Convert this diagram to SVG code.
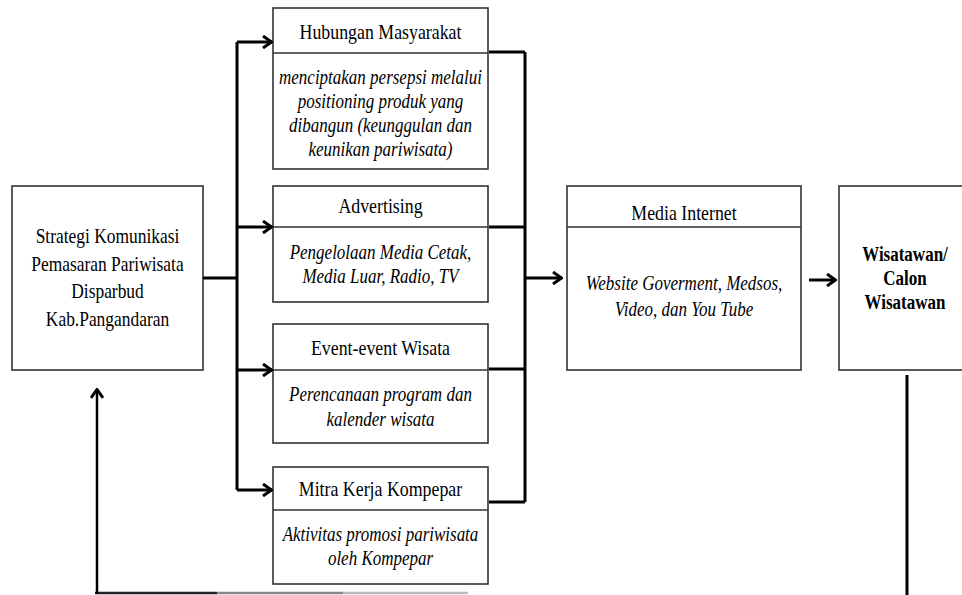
<svg xmlns="http://www.w3.org/2000/svg" width="962" height="595" viewBox="0 0 962 595">
<defs>
<style>
.box{fill:#fff;stroke:#333;stroke-width:1.6}
.div{stroke:#333;stroke-width:1.6;fill:none}
.con{stroke:#000;stroke-width:3;fill:none}
.t{font-family:"Liberation Serif","Times New Roman",serif;font-size:21px;fill:#000;text-anchor:middle}
.i{font-family:"Liberation Serif","Times New Roman",serif;font-size:20px;font-style:italic;fill:#000;text-anchor:middle}
.b{font-family:"Liberation Serif","Times New Roman",serif;font-size:20px;font-weight:bold;fill:#000;text-anchor:middle}
</style>
<marker id="ah" viewBox="0 0 12 14" refX="11" refY="7" markerWidth="12" markerHeight="14" markerUnits="userSpaceOnUse" orient="auto">
<polyline points="2,1 10.5,7 2,13" fill="none" stroke="#000" stroke-width="3"/>
</marker>
</defs>

<g id="node-strategi">
<rect class="box" x="12" y="186" width="191" height="184"/>
<g transform="translate(107.5 0) scale(0.83 1)">
<text class="t" x="0" y="243">Strategi Komunikasi</text>
<text class="t" x="0" y="271">Pemasaran Pariwisata</text>
<text class="t" x="0" y="298">Disparbud</text>
<text class="t" x="0" y="326">Kab.Pangandaran</text>
</g>
</g>

<g id="node-humas">
<rect class="box" x="273" y="8" width="215" height="161"/>
<line class="div" x1="273" y1="53" x2="488" y2="53"/>
<g transform="translate(380.5 0) scale(0.85 1)">
<text class="t" x="0" y="39">Hubungan Masyarakat</text>
<text class="i" x="0" y="84">menciptakan persepsi melalui</text>
<text class="i" x="0" y="108">positioning produk yang</text>
<text class="i" x="0" y="132">dibangun (keunggulan dan</text>
<text class="i" x="0" y="156">keunikan pariwisata)</text>
</g>
</g>

<g id="node-advertising">
<rect class="box" x="273" y="186" width="215" height="116"/>
<line class="div" x1="273" y1="227" x2="488" y2="227"/>
<g transform="translate(380.5 0) scale(0.85 1)">
<text class="t" x="0" y="213">Advertising</text>
<text class="i" x="0" y="259">Pengelolaan Media Cetak,</text>
<text class="i" x="0" y="283">Media Luar, Radio, TV</text>
</g>
</g>

<g id="node-event">
<rect class="box" x="273" y="324" width="215" height="119"/>
<line class="div" x1="273" y1="370" x2="488" y2="370"/>
<g transform="translate(380.5 0) scale(0.85 1)">
<text class="t" x="0" y="355">Event-event Wisata</text>
<text class="i" x="0" y="401">Perencanaan program dan</text>
<text class="i" x="0" y="426">kalender wisata</text>
</g>
</g>

<g id="node-mitra">
<rect class="box" x="273" y="467" width="215" height="117"/>
<line class="div" x1="273" y1="510" x2="488" y2="510"/>
<g transform="translate(380.5 0) scale(0.85 1)">
<text class="t" x="0" y="496">Mitra Kerja Kompepar</text>
<text class="i" x="0" y="541">Aktivitas promosi pariwisata</text>
<text class="i" x="0" y="565">oleh Kompepar</text>
</g>
</g>

<g id="node-media">
<rect class="box" x="567" y="186" width="234" height="184"/>
<line class="div" x1="567" y1="227" x2="801" y2="227"/>
<g transform="translate(684 0) scale(0.85 1)">
<text class="t" x="0" y="220">Media Internet</text>
<text class="i" x="0" y="290">Website Goverment, Medsos,</text>
<text class="i" x="0" y="316">Video, dan You Tube</text>
</g>
</g>

<g id="node-wisatawan">
<rect class="box" x="839" y="186" width="130" height="184"/>
<g transform="translate(905 0) scale(0.85 1)">
<text class="b" x="0" y="261">Wisatawan/</text>
<text class="b" x="0" y="285">Calon</text>
<text class="b" x="0" y="309">Wisatawan</text>
</g>
</g>

<g id="connectors">
<line class="con" x1="203" y1="278" x2="237" y2="278"/>
<line class="con" x1="237" y1="42" x2="237" y2="490"/>
<line class="con" x1="237" y1="42" x2="272" y2="42" marker-end="url(#ah)"/>
<line class="con" x1="237" y1="227" x2="272" y2="227" marker-end="url(#ah)"/>
<line class="con" x1="237" y1="370" x2="272" y2="370" marker-end="url(#ah)"/>
<line class="con" x1="237" y1="490" x2="272" y2="490" marker-end="url(#ah)"/>
<line class="con" x1="489" y1="52" x2="525" y2="52"/>
<line class="con" x1="489" y1="227" x2="525" y2="227"/>
<line class="con" x1="489" y1="369" x2="525" y2="369"/>
<line class="con" x1="489" y1="502" x2="525" y2="502"/>
<line class="con" x1="525" y1="52" x2="525" y2="502"/>
<line class="con" x1="525" y1="278" x2="562" y2="278" marker-end="url(#ah)"/>
<line class="con" x1="809" y1="280" x2="836" y2="280" marker-end="url(#ah)"/>
<line class="con" x1="907" y1="375" x2="907" y2="595"/>
<line x1="95" y1="593" x2="217" y2="593" stroke="#222" stroke-width="2.5"/>
<line x1="217" y1="593" x2="343" y2="593" stroke="#888" stroke-width="2.5"/>
<line x1="343" y1="593" x2="468" y2="593" stroke="#bbb" stroke-width="2.5"/>
<line x1="97" y1="594" x2="97" y2="389" stroke="#000" stroke-width="2.5" marker-end="url(#ah)"/>
</g>
</svg>
